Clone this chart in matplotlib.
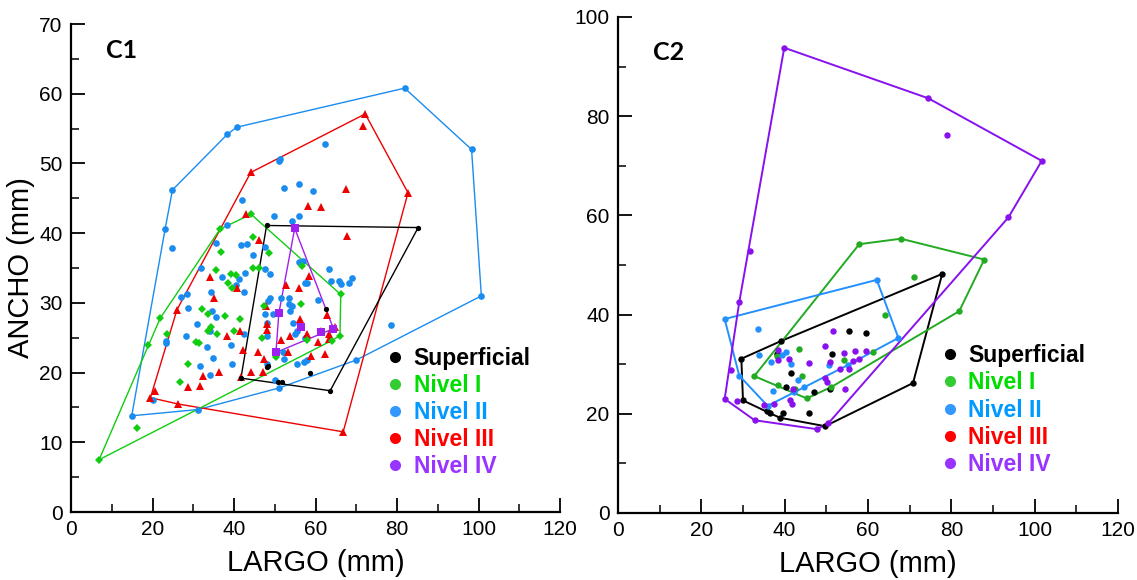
import numpy as np
import matplotlib
matplotlib.use("Agg")
import matplotlib.pyplot as plt
from matplotlib.lines import Line2D
from matplotlib.ticker import MultipleLocator

plt.rcParams['font.family'] = ['Liberation Sans', 'DejaVu Sans']

# ---------------- C1 data (LARGO, ANCHO in mm) ----------------
c1_sup_x = [48.0, 85.2, 62.5, 48.4, 48.0, 50.9, 51.9, 58.7, 41.7, 63.6]
c1_sup_y = [41.1, 40.8, 29.1, 21.0, 20.8, 18.6, 18.6, 19.9, 19.2, 17.4]

c1_n1_x = [6.9, 19.0, 21.9, 36.6, 44.2, 66.2, 66.0, 16.1,
           44.6, 36.7, 48.7, 35.7, 39.3, 40.6, 38.6, 39.5, 44.6, 46.1, 56.8,
           32.1, 33.7, 37.8, 41.5, 47.4, 56.4, 34.4, 35.9, 33.7, 40.0, 46.8,
           30.6, 31.5, 28.6, 26.7, 23.6, 50.2, 57.8, 64.0]
c1_n1_y = [7.5, 23.9, 27.8, 40.6, 42.7, 31.2, 25.3, 12.0,
           39.5, 37.3, 37.1, 34.7, 34.1, 34.0, 32.8, 32.1, 35.0, 35.0, 35.3,
           29.1, 28.4, 28.1, 27.7, 29.5, 29.9, 26.6, 25.6, 26.0, 26.0, 24.9,
           24.4, 24.3, 21.2, 18.7, 25.5, 22.2, 24.7, 24.6]

c1_n2_x = [14.9, 23.1, 24.9, 38.4, 40.7, 81.9, 98.3, 100.7, 70.0, 51.1, 31.2,
           51.0, 51.4, 62.3, 24.7, 20.0, 78.5,
           52.2, 55.9, 59.3, 42.0, 49.8, 56.0, 54.3, 38.2, 35.5, 41.6, 43.3,
           47.7, 44.6, 31.8, 47.5, 48.8, 42.7, 37.1, 41.2, 40.4, 42.5, 34.4,
           28.4, 27.0, 28.8, 34.7, 35.7, 31.0, 34.1, 28.1, 23.2, 23.4, 33.3,
           34.8, 39.3, 42.5, 39.5, 31.6, 34.0, 48.0, 50.1, 52.3, 55.5, 57.3,
           57.8, 48.8, 48.4, 47.6, 49.5, 48.0, 51.5, 53.4, 53.5, 53.7, 54.3,
           54.6, 55.0, 55.5, 48.0, 56.0, 57.0, 57.4, 57.8, 60.6, 63.3, 63.7,
           65.7, 66.3, 68.3, 69.0, 57.4, 52.1]
c1_n2_y = [13.8, 40.6, 46.2, 54.2, 55.2, 60.8, 52.0, 31.0, 21.8, 17.8, 14.7,
           50.4, 50.7, 52.8, 37.9, 16.1, 26.8,
           46.5, 47.0, 46.0, 44.7, 42.4, 42.5, 41.8, 41.2, 38.6, 38.3, 38.5,
           38.0, 36.8, 35.0, 34.9, 34.1, 34.3, 33.7, 33.4, 32.5, 31.5, 31.6,
           31.2, 30.8, 29.2, 28.8, 27.9, 26.9, 25.9, 25.3, 24.5, 24.2, 23.7,
           22.1, 24.0, 25.6, 21.2, 21.0, 19.7, 21.2, 18.9, 21.9, 21.2, 21.5,
           21.8, 30.7, 30.2, 28.4, 28.4, 27.1, 30.7, 30.7, 29.8, 28.8, 29.6,
           27.1, 25.6, 25.9, 25.3, 35.8, 36.0, 32.9, 32.8, 30.4, 34.8, 33.1,
           33.1, 32.7, 32.9, 33.6, 24.9, 22.9]

c1_n3_x = [19.5, 20.5, 26.0, 44.1, 72.2, 82.7, 66.8, 26.2, 71.7,
           67.5, 58.1, 61.4, 42.9, 67.7, 46.1, 34.2, 58.3, 52.7, 56.0, 40.8,
           35.1, 47.9, 56.3, 62.7, 48.2, 48.0, 41.5, 38.4, 53.7, 58.0, 60.7,
           61.4, 63.2, 63.4, 64.8, 51.5, 53.3, 42.1, 46.0, 47.4, 59.0, 62.3,
           36.4, 32.5, 31.7, 28.8, 44.2, 47.1, 41.7]
c1_n3_y = [16.4, 17.3, 29.0, 48.7, 57.1, 45.8, 11.5, 15.5, 55.4,
           46.4, 43.9, 43.8, 42.8, 39.6, 39.0, 33.7, 33.8, 32.5, 32.1, 32.2,
           30.7, 29.5, 27.7, 28.2, 26.9, 26.1, 26.0, 25.2, 25.2, 25.5, 24.4,
           25.9, 25.6, 24.8, 26.6, 24.7, 23.0, 23.2, 22.9, 21.9, 22.4, 22.6,
           20.1, 19.5, 18.1, 18.0, 20.1, 20.1, 19.3]

c1_n4_x = [54.9, 51.0, 50.3, 61.3, 64.4, 56.4]
c1_n4_y = [40.7, 28.5, 22.9, 25.8, 26.3, 26.6]

# ---------------- C2 data (LARGO, ANCHO in mm) ----------------
c2_sup_x = [29.6, 77.8, 70.8, 49.7, 38.9, 35.7, 30.0, 39.2,
            36.5, 39.7, 45.9, 40.2, 41.5, 38.1, 51.3, 50.8, 47.1, 55.4, 59.6]
c2_sup_y = [31.1, 48.2, 26.2, 17.5, 19.2, 20.5, 22.7, 34.7,
            20.1, 20.2, 20.2, 25.5, 28.3, 32.0, 32.0, 25.1, 24.3, 36.6, 36.2]

c2_n1_x = [32.7, 45.3, 81.9, 87.9, 67.9, 57.9,
           71.1, 64.0, 61.3, 43.4, 38.2, 44.2, 38.4, 42.5, 54.3, 51.2]
c2_n1_y = [27.6, 23.1, 40.7, 51.1, 55.3, 54.2,
           47.6, 39.9, 32.4, 33.1, 31.7, 27.7, 25.9, 24.9, 30.8, 25.4]

c2_n2_x = [25.6, 62.1, 67.3, 35.9, 29.1,
           33.5, 33.8, 36.7, 39.3, 40.2, 41.5, 37.3, 43.1, 44.7, 42.2, 50.6, 55.1]
c2_n2_y = [39.1, 47.0, 35.3, 21.6, 27.7,
           37.1, 31.9, 30.5, 31.8, 32.5, 30.1, 24.5, 26.8, 25.4, 24.4, 29.8, 29.8]

c2_n3_x = []
c2_n3_y = []

c2_n4_x = [39.9, 74.5, 101.7, 93.7, 50.5, 47.7, 32.8, 25.6, 27.0, 29.1, 31.7,
           79.0, 28.6, 38.4, 38.4, 37.5, 35.1, 41.0, 42.0, 41.2, 41.8, 45.8,
           49.7, 51.6, 50.9, 49.7, 50.2, 54.2, 56.9, 59.6, 56.5, 57.9, 53.2,
           55.4, 54.5]
c2_n4_y = [93.8, 83.6, 71.0, 59.6, 18.1, 16.9, 18.7, 23.0, 28.8, 42.5, 52.9,
           76.3, 22.6, 32.9, 30.8, 21.9, 21.8, 31.1, 25.1, 22.7, 21.9, 30.3,
           33.6, 36.7, 30.4, 27.3, 26.5, 32.2, 32.7, 32.7, 30.6, 31.0, 29.0,
           29.0, 25.1]

labels = ["Superficial", "Nivel I", "Nivel II", "Nivel III", "Nivel IV"]
legend_marker_colors = ["#000000", "#33cc33", "#3399ff", "#ff0000", "#9933ff"]
legend_text_colors = ["#000000", "#00dd00", "#0099ff", "#ff0000", "#9933ff"]


def convex_hull(xs, ys):
    """Monotone-chain convex hull, returned as a closed ring."""
    pts = sorted(set(zip(xs, ys)))
    if len(pts) < 3:
        return np.array(pts)

    def cross(o, a, b):
        return (a[0] - o[0]) * (b[1] - o[1]) - (a[1] - o[1]) * (b[0] - o[0])

    lower = []
    for p in pts:
        while len(lower) >= 2 and cross(lower[-2], lower[-1], p) <= 0:
            lower.pop()
        lower.append(p)
    upper = []
    for p in reversed(pts):
        while len(upper) >= 2 and cross(upper[-2], upper[-1], p) <= 0:
            upper.pop()
        upper.append(p)
    ring = lower[:-1] + upper[:-1]
    ring.append(ring[0])
    return np.array(ring)


def draw_group(ax, xs, ys, color, marker, ms, lw):
    if len(xs) == 0:
        return
    ring = convex_hull(xs, ys)
    ax.plot(ring[:, 0], ring[:, 1], color=color, lw=lw, zorder=2)
    ax.plot(xs, ys, linestyle="none", marker=marker, ms=ms, color=color,
            markeredgewidth=0, zorder=3)


def style_axes(ax, ymax, ymajor, yminor):
    ax.set_xlim(0, 120)
    ax.set_ylim(0, ymax)
    ax.xaxis.set_major_locator(MultipleLocator(20))
    ax.xaxis.set_minor_locator(MultipleLocator(10))
    ax.yaxis.set_major_locator(MultipleLocator(ymajor))
    ax.yaxis.set_minor_locator(MultipleLocator(yminor))
    for s in ("top", "right"):
        ax.spines[s].set_visible(False)
    for s in ("left", "bottom"):
        ax.spines[s].set_linewidth(1.6)
    ax.tick_params(which="major", direction="in", length=10, width=1.3,
                   labelsize=15, pad=6)
    ax.tick_params(which="minor", direction="in", length=6, width=1.1)
    ax.set_xlabel("LARGO (mm)", fontsize=21, labelpad=7)


def add_legend(ax, anchor):
    handles = [Line2D([], [], linestyle="none", marker="o", ms=8,
                      color=c, markeredgewidth=0) for c in legend_marker_colors]
    leg = ax.legend(handles, labels, loc="upper left", bbox_to_anchor=anchor,
                    frameon=False, prop={"weight": "bold", "size": 16.5},
                    handlelength=0.6, handletextpad=0.5, labelspacing=0.18,
                    borderaxespad=0, borderpad=0)
    for t, c in zip(leg.get_texts(), legend_text_colors):
        t.set_color(c)


fig = plt.figure(figsize=(11.37, 5.80), dpi=100)
ax1 = fig.add_axes([71 / 1137, 68 / 580, 489 / 1137, 488 / 580])
ax2 = fig.add_axes([618 / 1137, 67 / 580, 500 / 1137, 496 / 580])

# C1
lw1 = 1.0
draw_group(ax1, c1_n2_x, c1_n2_y, "#1a8cf0", "o", 4.8, lw1)
draw_group(ax1, c1_n3_x, c1_n3_y, "#ee0000", "^", 6.0, lw1)
draw_group(ax1, c1_n1_x, c1_n1_y, "#11cc11", "D", 3.6, lw1)
draw_group(ax1, c1_sup_x, c1_sup_y, "#000000", "o", 3.8, lw1)
draw_group(ax1, c1_n4_x, c1_n4_y, "#a020f0", "s", 5.2, lw1)
style_axes(ax1, 70, 10, 5)
ax1.set_ylabel("ANCHO (mm)", fontsize=21, labelpad=3)
ax1.text(0.072, 0.945, "C1", transform=ax1.transAxes, fontsize=18,
         fontweight="bold", family=["Lato", "DejaVu Sans"], va="center")
add_legend(ax1, (0.649, 0.339))

# C2
lw2 = 1.4
draw_group(ax2, c2_sup_x, c2_sup_y, "#000000", "o", 4.6, lw2)
draw_group(ax2, c2_n1_x, c2_n1_y, "#22aa22", "o", 4.6, lw2)
draw_group(ax2, c2_n2_x, c2_n2_y, "#2290ff", "o", 4.6, lw2)
draw_group(ax2, c2_n3_x, c2_n3_y, "#ff0000", "o", 4.6, lw2)
draw_group(ax2, c2_n4_x, c2_n4_y, "#8811ee", "o", 4.6, lw2)
style_axes(ax2, 100, 20, 10)
ax2.text(0.07, 0.929, "C2", transform=ax2.transAxes, fontsize=18,
         fontweight="bold", family=["Lato", "DejaVu Sans"], va="center")
add_legend(ax2, (0.65, 0.34))

fig.savefig("out.png", dpi=100)
